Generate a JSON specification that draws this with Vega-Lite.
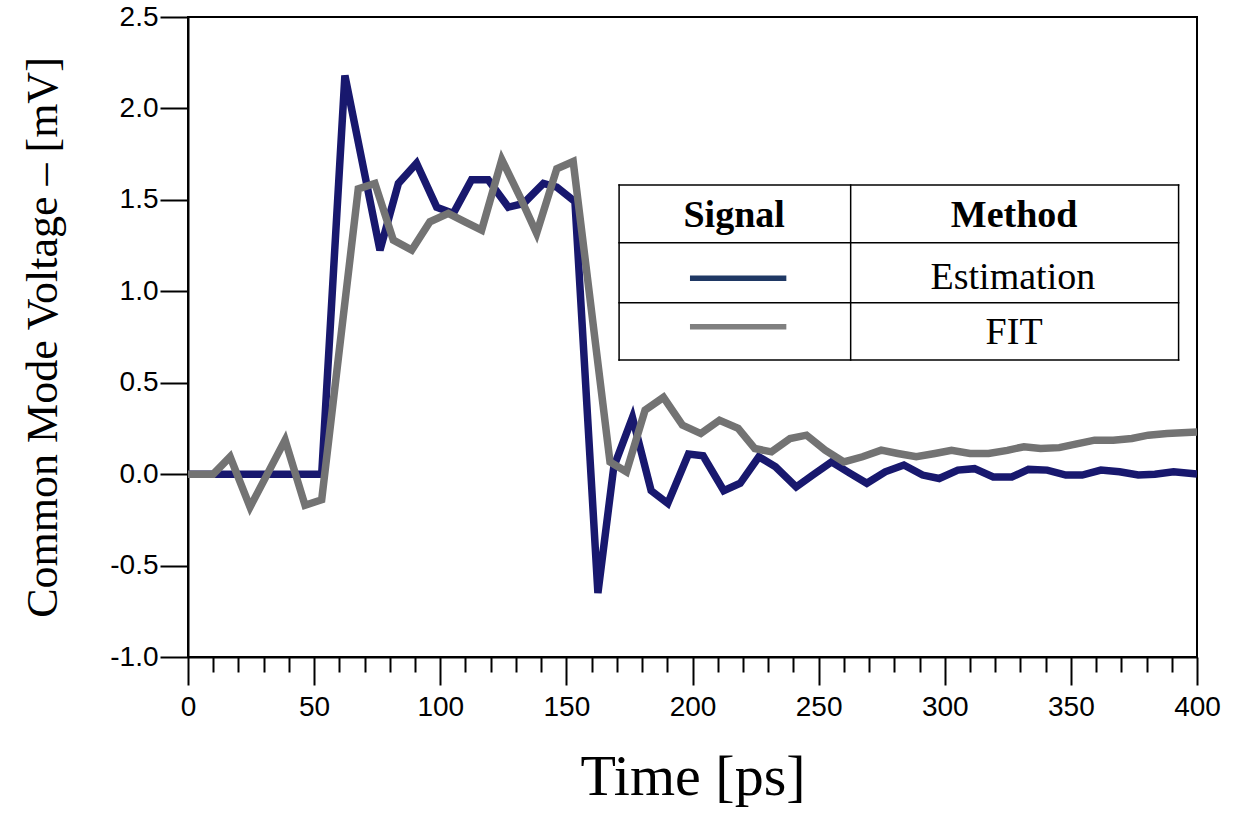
{
  "$schema": "https://vega.github.io/schema/vega-lite/v6.json",
  "width": 1009,
  "height": 640,
  "autosize": {"type": "none"},
  "padding": {"left": 188, "top": 17, "right": 50, "bottom": 156},
  "background": "white",
  "config": {
    "view": {"stroke": "black", "strokeWidth": 2},
    "axis": {"grid": false, "domainColor": "black", "domainWidth": 2, "tickColor": "black", "tickWidth": 2, "labelColor": "black", "titleColor": "black"}
  },
  "resolve": {"scale": {"color": "independent"}},
  "encoding": {
    "x": {
      "field": "t", "type": "quantitative",
      "scale": {"domain": [0, 400], "nice": false, "zero": false},
      "axis": {
        "title": "Time [ps]",
        "values": [0,10,20,30,40,50,60,70,80,90,100,110,120,130,140,150,160,170,180,190,200,210,220,230,240,250,260,270,280,290,300,310,320,330,340,350,360,370,380,390,400],
        "tickSize": {"condition": {"test": "datum.value % 50 === 0", "value": 28}, "value": 15},
        "labelExpr": "datum.value % 50 === 0 ? datum.label : ''",
        "labelOverlap": false, "labelBound": false, "labelFlush": false,
        "labelFont": "Liberation Sans", "labelFontSize": 28, "labelPadding": 8,
        "titleFont": "Liberation Serif", "titleFontSize": 58, "titleFontWeight": "normal", "titlePadding": 27
      }
    },
    "y": {
      "field": "v", "type": "quantitative",
      "scale": {"domain": [-1, 2.5], "nice": false, "zero": false},
      "axis": {
        "title": "Common Mode Voltage – [mV]",
        "values": [-1, -0.5, 0, 0.5, 1, 1.5, 2, 2.5],
        "format": ".1f",
        "labelExpr": "replace(datum.label, '−', '-')",
        "tickSize": 28,
        "labelFont": "Liberation Sans", "labelFontSize": 28, "labelPadding": 2,
        "titleFont": "Liberation Serif", "titleFontSize": 44, "titleFontWeight": "normal", "titlePadding": 44
      }
    }
  },
  "layer": [
    {
      "data": {"values": [
        {"series": "Estimation", "t": 0, "v": 0},
        {"series": "Estimation", "t": 53, "v": 0},
        {"series": "Estimation", "t": 62.2, "v": 2.18},
        {"series": "Estimation", "t": 76.1, "v": 1.225},
        {"series": "Estimation", "t": 83.4, "v": 1.59},
        {"series": "Estimation", "t": 90.6, "v": 1.7},
        {"series": "Estimation", "t": 98.6, "v": 1.46},
        {"series": "Estimation", "t": 105.2, "v": 1.426},
        {"series": "Estimation", "t": 112.4, "v": 1.61},
        {"series": "Estimation", "t": 119, "v": 1.61},
        {"series": "Estimation", "t": 127, "v": 1.46},
        {"series": "Estimation", "t": 133, "v": 1.48},
        {"series": "Estimation", "t": 140.9, "v": 1.59},
        {"series": "Estimation", "t": 146.2, "v": 1.57},
        {"series": "Estimation", "t": 153.4, "v": 1.49},
        {"series": "Estimation", "t": 162.5, "v": -0.65},
        {"series": "Estimation", "t": 168.8, "v": 0.04},
        {"series": "Estimation", "t": 176.2, "v": 0.31},
        {"series": "Estimation", "t": 183.6, "v": -0.09},
        {"series": "Estimation", "t": 190.2, "v": -0.16},
        {"series": "Estimation", "t": 198.4, "v": 0.11},
        {"series": "Estimation", "t": 204.2, "v": 0.1},
        {"series": "Estimation", "t": 212.4, "v": -0.09},
        {"series": "Estimation", "t": 218.9, "v": -0.05},
        {"series": "Estimation", "t": 226.3, "v": 0.095},
        {"series": "Estimation", "t": 232.9, "v": 0.04},
        {"series": "Estimation", "t": 241.1, "v": -0.07},
        {"series": "Estimation", "t": 247.7, "v": -0.005},
        {"series": "Estimation", "t": 255.1, "v": 0.067},
        {"series": "Estimation", "t": 262.5, "v": 0.004},
        {"series": "Estimation", "t": 269.1, "v": -0.05},
        {"series": "Estimation", "t": 276.4, "v": 0.013},
        {"series": "Estimation", "t": 283.8, "v": 0.05},
        {"series": "Estimation", "t": 291.2, "v": -0.005},
        {"series": "Estimation", "t": 297.8, "v": -0.024},
        {"series": "Estimation", "t": 305.2, "v": 0.022},
        {"series": "Estimation", "t": 311.8, "v": 0.03},
        {"series": "Estimation", "t": 319.2, "v": -0.015},
        {"series": "Estimation", "t": 326.6, "v": -0.015},
        {"series": "Estimation", "t": 333.2, "v": 0.026},
        {"series": "Estimation", "t": 340.6, "v": 0.022},
        {"series": "Estimation", "t": 348, "v": -0.005},
        {"series": "Estimation", "t": 354.5, "v": -0.005},
        {"series": "Estimation", "t": 361.9, "v": 0.022},
        {"series": "Estimation", "t": 369.3, "v": 0.013},
        {"series": "Estimation", "t": 376.7, "v": -0.005},
        {"series": "Estimation", "t": 383.3, "v": 0},
        {"series": "Estimation", "t": 390.7, "v": 0.013},
        {"series": "Estimation", "t": 400, "v": 0},
        {"series": "FIT", "t": 0, "v": 0},
        {"series": "FIT", "t": 10, "v": 0},
        {"series": "FIT", "t": 16.7, "v": 0.095},
        {"series": "FIT", "t": 24.6, "v": -0.18},
        {"series": "FIT", "t": 38.5, "v": 0.186},
        {"series": "FIT", "t": 46.4, "v": -0.17},
        {"series": "FIT", "t": 53, "v": -0.14},
        {"series": "FIT", "t": 67.5, "v": 1.56},
        {"series": "FIT", "t": 74.1, "v": 1.59},
        {"series": "FIT", "t": 81.4, "v": 1.28},
        {"series": "FIT", "t": 88.7, "v": 1.225},
        {"series": "FIT", "t": 95.9, "v": 1.38},
        {"series": "FIT", "t": 103.2, "v": 1.426},
        {"series": "FIT", "t": 109.8, "v": 1.38},
        {"series": "FIT", "t": 116.4, "v": 1.335},
        {"series": "FIT", "t": 124.4, "v": 1.72},
        {"series": "FIT", "t": 131.6, "v": 1.517},
        {"series": "FIT", "t": 138.2, "v": 1.317},
        {"series": "FIT", "t": 146.2, "v": 1.67},
        {"series": "FIT", "t": 152.7, "v": 1.71},
        {"series": "FIT", "t": 167.3, "v": 0.067},
        {"series": "FIT", "t": 173.8, "v": 0.013},
        {"series": "FIT", "t": 181.2, "v": 0.35},
        {"series": "FIT", "t": 188.5, "v": 0.42},
        {"series": "FIT", "t": 196, "v": 0.268},
        {"series": "FIT", "t": 203.3, "v": 0.222},
        {"series": "FIT", "t": 210.7, "v": 0.295},
        {"series": "FIT", "t": 218.1, "v": 0.25},
        {"series": "FIT", "t": 224.7, "v": 0.14},
        {"series": "FIT", "t": 231.3, "v": 0.122},
        {"series": "FIT", "t": 238.7, "v": 0.195},
        {"series": "FIT", "t": 245.2, "v": 0.213},
        {"series": "FIT", "t": 252.6, "v": 0.131},
        {"series": "FIT", "t": 260, "v": 0.067},
        {"series": "FIT", "t": 267.4, "v": 0.095},
        {"series": "FIT", "t": 274.8, "v": 0.131},
        {"series": "FIT", "t": 281.4, "v": 0.113},
        {"series": "FIT", "t": 288.7, "v": 0.095},
        {"series": "FIT", "t": 296.1, "v": 0.113},
        {"series": "FIT", "t": 302.7, "v": 0.13},
        {"series": "FIT", "t": 310, "v": 0.113},
        {"series": "FIT", "t": 317.4, "v": 0.113},
        {"series": "FIT", "t": 324.8, "v": 0.13},
        {"series": "FIT", "t": 331.4, "v": 0.15},
        {"series": "FIT", "t": 338, "v": 0.14},
        {"series": "FIT", "t": 345.4, "v": 0.145},
        {"series": "FIT", "t": 352.8, "v": 0.167},
        {"series": "FIT", "t": 359.4, "v": 0.186},
        {"series": "FIT", "t": 366.8, "v": 0.186},
        {"series": "FIT", "t": 374.2, "v": 0.195},
        {"series": "FIT", "t": 380.7, "v": 0.213},
        {"series": "FIT", "t": 388.1, "v": 0.222},
        {"series": "FIT", "t": 400, "v": 0.23}
      ]},
      "mark": {"type": "line", "strokeWidth": 7.5, "strokeJoin": "miter", "strokeCap": "butt", "clip": true},
      "encoding": {
        "color": {"field": "series", "type": "nominal", "scale": {"domain": ["Estimation", "FIT"], "range": ["#18186e", "#737373"]}, "legend": null},
        "order": {"field": "t", "type": "quantitative"}
      }
    },
    {
      "data": {"values": [
        {"t": 170.9, "t2": 392.7, "v": 0.624, "v2": 1.581}
      ]},
      "mark": {"type": "rect", "fill": "white", "stroke": null},
      "encoding": {
        "x2": {"field": "t2"},
        "y2": {"field": "v2"}
      }
    },
    {
      "data": {"values": [
        {"t": 170.9, "t2": 392.7, "v": 1.581, "v2": 1.581},
        {"t": 170.9, "t2": 392.7, "v": 1.265, "v2": 1.265},
        {"t": 170.9, "t2": 392.7, "v": 0.937, "v2": 0.937},
        {"t": 170.9, "t2": 392.7, "v": 0.624, "v2": 0.624},
        {"t": 170.9, "t2": 170.9, "v": 0.624, "v2": 1.581},
        {"t": 262.7, "t2": 262.7, "v": 0.624, "v2": 1.581},
        {"t": 392.7, "t2": 392.7, "v": 0.624, "v2": 1.581}
      ]},
      "mark": {"type": "rule", "color": "black", "strokeWidth": 1.5, "strokeCap": "square"},
      "encoding": {
        "x2": {"field": "t2"},
        "y2": {"field": "v2"}
      }
    },
    {
      "data": {"values": [
        {"series": "Estimation", "t": 199.0, "t2": 237.2, "v": 1.071},
        {"series": "FIT", "t": 199.0, "t2": 237.2, "v": 0.806}
      ]},
      "mark": {"type": "rule", "strokeWidth": 5.5},
      "encoding": {
        "x2": {"field": "t2"},
        "color": {"field": "series", "type": "nominal", "scale": {"domain": ["Estimation", "FIT"], "range": ["#1f3864", "#808080"]}, "legend": null}
      }
    },
    {
      "data": {"values": [
        {"t": 216.5, "v": 1.353, "label": "Signal"},
        {"t": 327.5, "v": 1.353, "label": "Method"}
      ]},
      "mark": {"type": "text", "font": "Liberation Serif", "fontSize": 38, "fontWeight": "bold", "align": "center", "baseline": "alphabetic", "color": "black"},
      "encoding": {"text": {"field": "label"}}
    },
    {
      "data": {"values": [
        {"t": 327, "v": 1.012, "label": "Estimation"},
        {"t": 327.5, "v": 0.71, "label": "FIT"}
      ]},
      "mark": {"type": "text", "font": "Liberation Serif", "fontSize": 38, "align": "center", "baseline": "alphabetic", "color": "black"},
      "encoding": {"text": {"field": "label"}}
    }
  ]
}
